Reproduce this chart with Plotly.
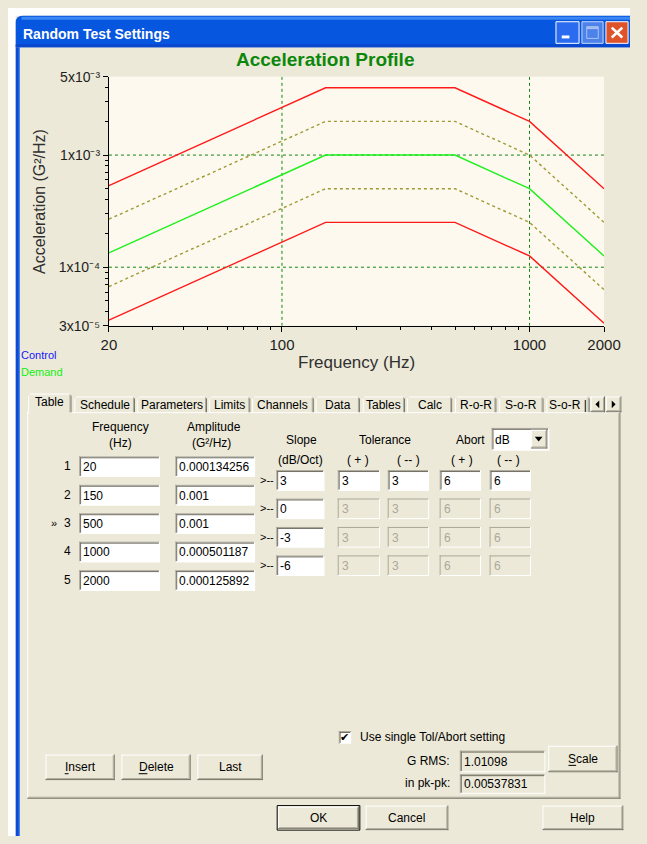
import math
import plotly.graph_objects as go

W, H = 647, 844

# ---------------- data ----------------
FREQ = [20, 150, 500, 1000, 2000]
DEMAND = [0.000134256, 0.001, 0.001, 0.000501187, 0.000125892]
TOL_HIGH = [0.000268, 0.001995, 0.001995, 0.001, 0.000251]
TOL_LOW = [0.0000673, 0.000501, 0.000501, 0.000251, 0.0000631]
ABORT_HIGH = [0.000535, 0.00398, 0.00398, 0.001995, 0.000501]
ABORT_LOW = [0.0000337, 0.000251, 0.000251, 0.000126, 0.0000316]
GRID_FREQ = [100, 1000]
GRID_ACC = [1e-4, 1e-3]
X_TICKS = [20, 100, 1000, 2000]
X_TICK_TEXT = ['20', '100', '1000', '2000']
Y_TICKS = [3e-5, 1e-4, 1e-3, 5e-3]
Y_TICK_TEXT = ['3x10⁻⁵', '1x10⁻⁴', '1x10⁻³', '5x10⁻³']
X_RANGE = [20, 2000]
Y_RANGE = [3e-5, 5e-3]
SLOPES = [3, 0, -3, -6]
TOL_PLUS, TOL_MINUS, ABORT_PLUS, ABORT_MINUS = 3, 3, 6, 6
TABS = ['Table', 'Schedule', 'Parameters', 'Limits', 'Channels', 'Data',
        'Tables', 'Calc', 'R-o-R', 'S-o-R', 'S-o-R |']
G_RMS = '1.01098'
PK_PK = '0.00537831'

# ---------------- style ----------------
BEIGE = '#ECE9D8'
DARK = '#716F64'
MID = '#ACA899'
WHITE = '#FFFFFF'
UI = 'Liberation Sans'
CHART_FONT = 'Liberation Sans'

shapes = []
annotations = []


def px(x):
    return x / W


def py(y):
    return 1 - y / H


def rect(x0, y0, x1, y1, fill, lc=None, lw=0):
    shapes.append(dict(type='rect', xref='paper', yref='paper',
                       x0=px(x0), x1=px(x1), y0=py(y1), y1=py(y0),
                       fillcolor=fill, line=dict(color=lc or fill, width=lw)))


def hline(x0, x1, y, color, lw=1):
    shapes.append(dict(type='line', xref='paper', yref='paper',
                       x0=px(x0), x1=px(x1), y0=py(y + 0.5), y1=py(y + 0.5),
                       line=dict(color=color, width=lw)))


def vline(x, y0, y1, color, lw=1):
    shapes.append(dict(type='line', xref='paper', yref='paper',
                       x0=px(x + 0.5), x1=px(x + 0.5), y0=py(y0), y1=py(y1),
                       line=dict(color=color, width=lw)))


def seg(x0, y0, x1, y1, color, lw=1):
    shapes.append(dict(type='line', xref='paper', yref='paper',
                       x0=px(x0), x1=px(x1), y0=py(y0), y1=py(y1),
                       line=dict(color=color, width=lw)))


def tri(points, color='black'):
    p = 'M ' + ' L '.join(f'{px(a):.5f},{py(b):.5f}' for a, b in points) + ' Z'
    shapes.append(dict(type='path', xref='paper', yref='paper', path=p,
                       fillcolor=color, line=dict(color=color, width=0)))


def text(x, y, s, size=12, color='black', xa='center', family=UI, angle=0, weight='normal'):
    annotations.append(dict(x=px(x), y=py(y), xref='paper', yref='paper', text=s,
                            showarrow=False, xanchor=xa, yanchor='middle',
                            textangle=angle, borderpad=0,
                            font=dict(family=family, size=size, color=color, weight=weight)))


def edit(x0, y0, x1, y1, val, enabled=True, fill=None):
    fill = fill or (WHITE if enabled else BEIGE)
    rect(x0, y0, x1, y1, fill)
    hline(x0, x1, y0, MID)
    vline(x0, y0, y1, MID)
    if enabled:
        hline(x0 + 1, x1 - 1, y0 + 1, DARK)
        vline(x0 + 1, y0 + 1, y1 - 1, DARK)
    hline(x0, x1, y1 - 1, WHITE)
    vline(x1 - 1, y0, y1, WHITE)
    text(x0 + 3, (y0 + y1) / 2 + 0.5, val, 12, 'black' if enabled else MID, xa='left')


def raised(x0, y0, x1, y1, label=None, default=False, underline=None):
    if default:
        rect(x0, y0, x1, y1, BEIGE, 'black', 1)
        x0, y0, x1, y1 = x0 + 1, y0 + 1, x1 - 1, y1 - 1
    rect(x0, y0, x1, y1, BEIGE)
    hline(x0, x1 - 1, y0, WHITE)
    vline(x0, y0, y1 - 1, WHITE)
    hline(x0, x1, y1 - 1, DARK)
    vline(x1 - 1, y0, y1, DARK)
    hline(x0 + 1, x1 - 2, y1 - 2, MID)
    vline(x1 - 2, y0 + 1, y1 - 1, MID)
    if label:
        text((x0 + x1) / 2, (y0 + y1) / 2, label, 12)
    if underline:
        u0, u1 = underline
        hline(u0, u1, (y0 + y1) / 2 + 6, 'black')


# ---------------- window frame ----------------
rect(0, 0, 8, H, WHITE)
rect(0, 0, W, 8, WHITE)
shapes.append(dict(type='path', xref='paper', yref='paper',
                   path=f'M {px(8)},{py(40)} L {px(8)},{py(15)} Q {px(8)},{py(8)} {px(15)},{py(8)} '
                        f'L {px(W)},{py(8)} L {px(W)},{py(40)} Z',
                   fillcolor='#0756E0', line=dict(width=0, color='#0756E0')))
rect(14, 9, W, 12, '#3A86F2')
rect(8, 37, W, 40, '#0A47CC')
rect(8, 40, 12, H, '#0B4BD6')
vline(11, 40, H, '#2F74EA')
text(15, 26, 'Random Test Settings', 14, WHITE, xa='left', weight='bold')

# title-bar buttons
rect(570, 14, 594, 36, '#2B6BF0', WHITE, 1)
rect(576, 28, 584, 31, WHITE)
rect(597, 14, 619, 36, '#4C82EA', '#C8D8F8', 1)
rect(602, 19, 614, 31, '#4C82EA', '#A9C2F2', 1)
hline(602, 614, 20, '#A9C2F2', 2)
rect(622, 14, 645, 36, '#DF532B', WHITE, 1)
seg(628, 20, 639, 30, WHITE, 2.6)
seg(628, 30, 639, 20, WHITE, 2.6)

# ---------------- chart texts ----------------
text(330, 53, 'Acceleration Profile', 19, '#0C870C', family=CHART_FONT, weight='bold')
text(33, 197, 'Acceleration (G²/Hz)', 16, '#303030', family=CHART_FONT, angle=-90)
text(363, 361, 'Frequency (Hz)', 17, '#303030', family=CHART_FONT)
text(12, 354, 'Control', 11, '#1515FF', xa='left')
text(12, 371, 'Demand', 11, '#10F010', xa='left')

# ---------------- tabs & panel ----------------
TAB_X = [(21, 66), (69, 132), (134, 207), (209, 252), (254, 318), (320, 366),
         (369, 413), (415, 462), (465, 508), (511, 557), (560, 605)]
hline(20, 21, 412, WHITE)
hline(66, 637, 412, WHITE)
vline(20, 412, 806, WHITE)
vline(636, 412, 806, DARK)
vline(635, 413, 805, MID)
hline(20, 637, 805, DARK)
hline(21, 636, 804, MID)
for i, (label, (x0, x1)) in enumerate(zip(TABS, TAB_X)):
    if i == 0:
        vline(x0, 395, 413, WHITE)
        hline(x0 + 2, x1 - 2, 393, WHITE)
        vline(x1 - 1, 395, 412, DARK)
        vline(x1 - 2, 394, 412, MID)
        text((x0 + x1) / 2, 402, label, 12)
    else:
        vline(x0, 398, 412, WHITE)
        hline(x0 + 2, x1 - 2, 396, WHITE)
        vline(x1 - 1, 398, 412, DARK)
        vline(x1 - 2, 397, 412, MID)
        text((x0 + x1) / 2, 404.5, label, 12)
raised(606, 396, 621, 412)
raised(622, 396, 638, 412)
tri([(611, 404), (615, 400), (615, 408)])
tri([(628, 400), (632, 404), (628, 408)])

# ---------------- table headers ----------------
text(117, 427, 'Frequency', 12)
text(117, 443, '(Hz)', 12)
text(214, 427, 'Amplitude', 12)
text(212, 443, '(G²/Hz)', 12)
text(305, 440, 'Slope', 12)
text(304, 461, '(dB/Oct)', 12)
text(392, 440, 'Tolerance', 12)
text(364, 461, '( + )', 12)
text(417, 461, '( -- )', 12)
text(481, 440, 'Abort', 12)
text(472, 461, '( + )', 12)
text(521, 461, '( -- )', 12)
edit(503, 428, 563, 451, 'dB', True)
raised(544, 430, 561, 449)
tri([(548, 437), (556, 437), (552, 442)])

# ---------------- table rows ----------------
for i, (f, a) in enumerate(zip(FREQ, DEMAND)):
    y0 = 457 + 29 * i
    text(62, y0 + 10, str(i + 1), 12)
    if i == 2:
        text(48, y0 + 10, '»', 11)
    edit(74, y0, 158, y0 + 21, str(f))
    edit(174, y0, 257, y0 + 21, str(a))

for i, s in enumerate(SLOPES):
    y0 = 471 + 29 * i
    en = (i == 0)
    text(269, y0 + 10, '>--', 11)
    edit(279, y0, 329, y0 + 21, str(s))
    edit(343, y0, 387, y0 + 21, str(TOL_PLUS), en)
    edit(395, y0, 438, y0 + 21, str(TOL_MINUS), en)
    edit(449, y0, 492, y0 + 21, str(ABORT_PLUS), en)
    edit(501, y0, 544, y0 + 21, str(ABORT_MINUS), en)

# ---------------- bottom controls ----------------
rect(344, 737, 357, 750, WHITE)
hline(344, 357, 737, MID)
vline(344, 737, 750, MID)
hline(345, 356, 738, DARK)
vline(345, 738, 749, DARK)
text(350.5, 743.5, '✔', 11, 'black', family='DejaVu Sans')
text(365, 743, 'Use single Tol/Abort setting', 12, xa='left')
text(461, 768, 'G RMS:', 12, xa='right')
edit(470, 757, 559, 779, G_RMS, True, fill=BEIGE)
text(461, 790, 'in pk-pk:', 12, xa='right')
edit(470, 781, 559, 801, PK_PK, True, fill=BEIGE)
raised(562, 752, 634, 779, 'Scale', underline=(583, 591))
raised(39, 761, 111, 787, 'Insert', underline=(59, 63))
raised(118, 761, 190, 787, 'Delete', underline=(136, 145))
raised(197, 761, 265, 787, 'Last')
raised(280, 813, 366, 838, 'OK', default=True)
raised(372, 813, 458, 838, 'Cancel')
raised(556, 813, 640, 838, 'Help')

# ---------------- chart ----------------
fig = go.Figure()
GRID_COLOR = '#148414'
for gx in GRID_FREQ:
    fig.add_trace(go.Scatter(x=[gx, gx], y=Y_RANGE, mode='lines', hoverinfo='skip',
                             line=dict(color=GRID_COLOR, width=1, dash='3px,3px'), showlegend=False))
for gy in GRID_ACC:
    fig.add_trace(go.Scatter(x=X_RANGE, y=[gy, gy], mode='lines', hoverinfo='skip',
                             line=dict(color=GRID_COLOR, width=1, dash='3px,3px'), showlegend=False))

series = [
    ('Abort +', ABORT_HIGH, '#FF1A1A', 'solid'),
    ('Tolerance +', TOL_HIGH, '#9E9A36', '3px,3px'),
    ('Demand', DEMAND, '#1EF01E', 'solid'),
    ('Tolerance -', TOL_LOW, '#9E9A36', '3px,3px'),
    ('Abort -', ABORT_LOW, '#FF1A1A', 'solid'),
]
for name, vals, color, dash in series:
    fig.add_trace(go.Scatter(x=FREQ, y=vals, mode='lines', name=name, showlegend=False,
                             line=dict(color=color, width=1.4, dash=dash)))

x_minor = [m * 10 ** e for e in (1, 2) for m in range(2, 10) if 20 < m * 10 ** e < 2000]
y_minor = [m * 10 ** e for e in (-5, -4, -3) for m in range(2, 10) if 3e-5 < m * 10 ** e < 5e-3]

fig.update_layout(
    width=W, height=H, autosize=False,
    margin=dict(l=0, r=0, t=0, b=0, pad=0),
    paper_bgcolor=BEIGE, plot_bgcolor='#FDF9EE',
    hovermode=False, showlegend=False,
    shapes=shapes, annotations=annotations,
    xaxis=dict(type='log', range=[math.log10(X_RANGE[0]), math.log10(X_RANGE[1])],
               domain=[105 / W, 620 / W], showgrid=False, zeroline=False,
               showline=True, linecolor='black', linewidth=1,
               ticks='outside', ticklen=5, tickcolor='black',
               tickmode='array', tickvals=X_TICKS, ticktext=X_TICK_TEXT,
               tickfont=dict(family=CHART_FONT, size=15, color='#1E1E1E'),
               minor=dict(tickmode='array', tickvals=x_minor, ticks='outside',
                          ticklen=3, tickcolor='black', showgrid=False),
               fixedrange=True),
    yaxis=dict(type='log', range=[math.log10(Y_RANGE[0]), math.log10(Y_RANGE[1])],
               domain=[1 - 324 / H, 1 - 70 / H], showgrid=False, zeroline=False,
               showline=True, linecolor='black', linewidth=1,
               ticks='outside', ticklen=5, tickcolor='black',
               tickmode='array', tickvals=Y_TICKS, ticktext=Y_TICK_TEXT,
               tickfont=dict(family=CHART_FONT, size=14, color='#1E1E1E'),
               minor=dict(tickmode='array', tickvals=y_minor, ticks='outside',
                          ticklen=3, tickcolor='black', showgrid=False),
               fixedrange=True),
)

fig.write_html('out.html', config={'displayModeBar': False, 'staticPlot': True})
